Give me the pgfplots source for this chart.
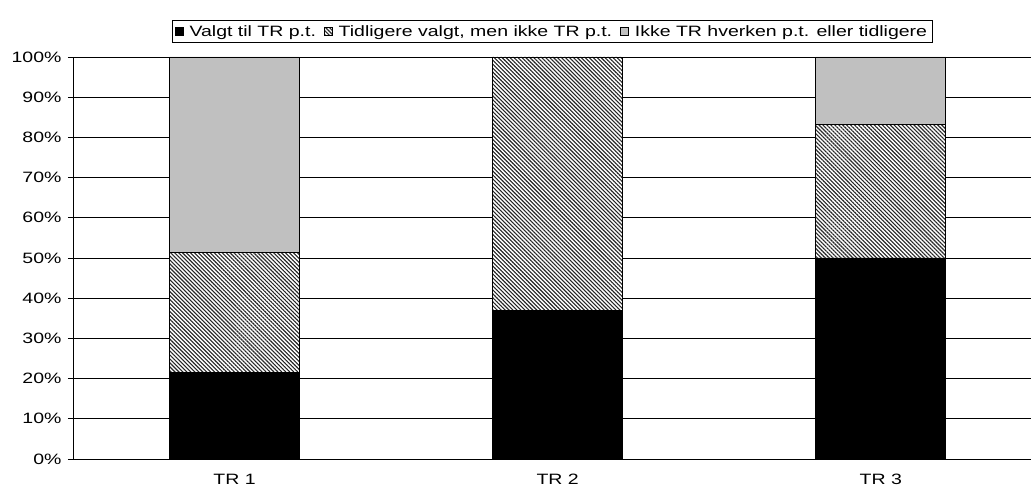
\documentclass[border=0pt]{standalone}
\usepackage{pgfplots}
\pgfplotsset{compat=1.18}
\usepackage{fontspec}
\setmainfont{Liberation Sans}[FakeStretch=1.3]
\usetikzlibrary{patterns.meta}
\definecolor{silv}{RGB}{192,192,192}
\begin{document}
\begin{tikzpicture}
\path[use as bounding box] (-73bp,-31bp) rectangle (958bp,459bp);
\begin{axis}[
  at={(0,0)}, anchor=south west,
  scale only axis, width=958bp, height=402bp,
  ybar stacked, bar width=0.403,
  xmin=-0.5, xmax=2.465, ymin=0, ymax=100,
  axis x line*=bottom, axis y line*=left,
  axis line style={-, black, line width=0.8bp},
  xtick={0,1,2}, xticklabels={TR 1,TR 2,TR 3},
  x tick style={draw=none},
  extra x ticks={0.5,1.5}, extra x tick labels={},
  extra x tick style={tick style={draw=black, line width=0.8bp}, major tick length=5bp, tick pos=left, tick align=outside, grid=none},
  ytick={0,10,...,100},
  yticklabels={0\%,10\%,20\%,30\%,40\%,50\%,60\%,70\%,80\%,90\%,100\%},
  tick align=outside, major tick length=5bp,
  y tick style={black, line width=0.8bp},
  ymajorgrids, grid style={black, line width=0.8bp},
  ticklabel style={font=\fontsize{15bp}{17bp}\selectfont},
  yticklabel style={xshift=-3bp},
  xticklabel style={yshift=-7bp},
  legend columns=3,
  legend style={at={(axis description cs:0.5,1)}, anchor=south, yshift=14bp,
    draw=black, line width=0.8bp, font=\fontsize{15bp}{17bp}\selectfont,
    /tikz/every even column/.append style={column sep=6bp},
    inner xsep=3bp, inner ysep=3bp},
  legend image code/.code={\draw[#1, line width=0.6bp] (0bp,-4bp) rectangle (8bp,4bp); \path (12bp,0bp);},
  clip=false,
]
\addplot+[fill=black, draw=black, line width=0.8bp] coordinates {(0,21.6) (1,37.0) (2,50.0)};
\addplot+[fill=white, draw=black, line width=0.8bp, postaction={pattern={Lines[angle=-45, distance=2.8bp, line width=1.1bp]}, pattern color=black!85}] coordinates {(0,29.8) (1,63.0) (2,33.3)};
\addplot+[fill=silv, draw=black, line width=0.8bp] coordinates {(0,48.6) (1,0) (2,16.7)};
\legend{Valgt til TR p.t., {Tidligere valgt, men ikke TR p.t.}, Ikke TR hverken p.t. eller tidligere}
\end{axis}
\end{tikzpicture}
\end{document}
